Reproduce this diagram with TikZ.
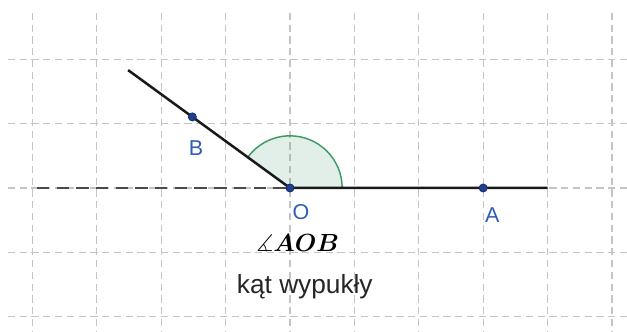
\documentclass[tikz,border=0pt]{standalone}
\usepackage{amssymb}
\usepackage{amsmath}
\usepackage{bm}
\usepackage{fontspec}
\setmainfont{Liberation Sans}
\definecolor{gridgray}{HTML}{C4C4C4}
\definecolor{ptblue}{HTML}{1F3F8F}
\definecolor{ptedge}{HTML}{122A66}
\definecolor{lblblue}{HTML}{2F5FB5}
\definecolor{arcgreen}{HTML}{3D9A65}
\definecolor{dashgray}{HTML}{4A4A4A}
\tikzset{
  gridline/.style={draw=gridgray, line width=0.55pt, dash pattern=on 3.2pt off 2pt},
  rayline/.style={draw=black!90, line width=1.1pt},
  extline/.style={draw=dashgray, line width=1.0pt, dash pattern=on 5.5pt off 3.2pt},
  pointdot/.style={circle, fill=ptblue, draw=ptedge, line width=0.3pt, inner sep=0pt, minimum size=3.6pt},
  ptlabel/.style={text=lblblue, font=\fontsize{9.5}{11}\selectfont, inner sep=0pt},
}
\begin{document}
\begin{tikzpicture}
\useasboundingbox (-4.503,-2.236) rectangle (5.233,2.919);
\fill[white] (-4.503,-2.236) rectangle (5.233,2.919);
% grid
\foreach \x in {-4,...,5} \draw[gridline] (\x,2.72) -- (\x,-2.236);
\foreach \y in {-2,...,2} \draw[gridline] (-4.38,\y) -- (5.233,\y);
% angle sector
\fill[arcgreen, opacity=0.15] (0,0) -- (0:0.81) arc[start angle=0, end angle=143.94, radius=0.81] -- cycle;
\draw[arcgreen, line width=0.65pt] (0:0.81) arc[start angle=0, end angle=143.94, radius=0.81];
% points
\coordinate (O) at (0,0);
\coordinate (E) at (143.94:3.11);
\coordinate (R) at (4,0);
\coordinate (L) at (-3.93,0);
\draw[extline] (L) -- (O);
\draw[rayline] (E) -- (O) -- (R);
\node[pointdot] (B) at (143.94:1.876) {};
\node[pointdot] (Op) at (O) {};
\node[pointdot] (A) at (3,0) {};
\node[ptlabel] (lB) at (-1.46,0.62) {B};
\node[ptlabel] (lO) at (0.17,-0.37) {O};
\node[ptlabel] (lA) at (3.14,-0.42) {A};
\node[inner sep=0pt, font=\fontsize{10.5}{12}\selectfont] (ang) at (0.12,-0.85) {$\measuredangle\bm{AOB}$};
\node[inner sep=0pt, text=black!85, font=\fontsize{11.6}{14}\selectfont] (txt) at (0.23,-1.54) {kąt wypukły};
\end{tikzpicture}
\end{document}
